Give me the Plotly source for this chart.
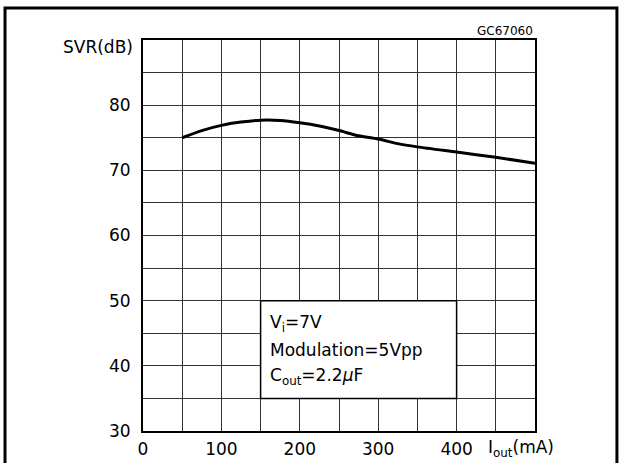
import plotly.graph_objects as go

# Data
iout_ma = [50, 75, 100, 125, 150, 175, 200, 225, 250, 275, 300, 325, 350, 400, 450, 500]
svr_db = [75.0, 76.1, 76.9, 77.4, 77.7, 77.65, 77.3, 76.8, 76.1, 75.3, 74.8, 74.1, 73.6, 72.8, 72.0, 71.1]

x_tick_vals = [0, 100, 200, 300, 400]
x_tick_text = ["0", "100", "200", "300", "400"]
x_minor_vals = [50, 150, 250, 350, 450]
y_tick_vals = [30, 40, 50, 60, 70, 80]
y_tick_text = ["30", "40", "50", "60", "70", "80"]
y_minor_vals = [35, 45, 55, 65, 75, 85]

conditions = ["V<sub>i</sub>=7V", "Modulation=5Vpp", "C<sub>out</sub>=2.2<i>μ</i>F"]
cond_y = [46.5, 42.4, 38.4]

FONT = "DejaVu Sans"

fig = go.Figure()
fig.add_trace(go.Scatter(
    x=iout_ma, y=svr_db, mode="lines",
    line=dict(color="black", width=3, shape="spline", smoothing=0.8),
    hoverinfo="skip", showlegend=False,
))

grid_col = "#333333"
fig.update_xaxes(
    range=[0, 500], tickvals=x_tick_vals, ticktext=x_tick_text,
    showgrid=True, gridcolor=grid_col, gridwidth=1,
    minor=dict(tickvals=x_minor_vals, showgrid=True, gridcolor=grid_col, gridwidth=1),
    showline=True, linecolor="black", linewidth=2, mirror=True,
    zeroline=False, ticks="", ticklabelstandoff=2, automargin=False,
    tickfont=dict(family=FONT, size=17, color="black"),
)
fig.update_yaxes(
    range=[30, 90], tickvals=y_tick_vals, ticktext=y_tick_text,
    showgrid=True, gridcolor=grid_col, gridwidth=1,
    minor=dict(tickvals=y_minor_vals, showgrid=True, gridcolor=grid_col, gridwidth=1),
    showline=True, linecolor="black", linewidth=2, mirror=True,
    zeroline=False, ticks="", ticklabelstandoff=7, automargin=False,
    tickfont=dict(family=FONT, size=17, color="black"),
)

# Condition box (white, covers grid)
fig.add_shape(type="rect", xref="x", yref="y", x0=150, x1=400, y0=35, y1=50,
              fillcolor="white", line=dict(color="black", width=1.5), layer="above")
for txt, yy in zip(conditions, cond_y):
    fig.add_annotation(x=160, y=yy, xref="x", yref="y", text=txt, showarrow=False,
                       xanchor="left", yanchor="middle",
                       font=dict(family=FONT, size=17, color="black"))

# Axis titles
fig.add_annotation(x=0, y=88.9, xref="paper", yref="y", text="SVR(dB)", showarrow=False,
                   xanchor="right", yanchor="middle", xshift=-8,
                   font=dict(family=FONT, size=17, color="black"))
fig.add_annotation(x=438, y=0, xref="x", yref="paper", text="I<sub>out</sub>(mA)", showarrow=False,
                   xanchor="left", yanchor="top", yshift=-4,
                   font=dict(family=FONT, size=17, color="black"))
fig.add_annotation(x=1, y=1.023, xref="paper", yref="paper", text="GC67060", showarrow=False,
                   xanchor="right", yanchor="middle",
                   font=dict(family=FONT, size=12, color="black"))

# Outer frame
fig.add_shape(type="rect", xref="paper", yref="paper", x0=-0.352, x1=1.209, y0=-0.2, y1=1.082,
              line=dict(color="black", width=3), fillcolor="rgba(0,0,0,0)", layer="above")

fig.update_layout(
    width=620, height=463,
    margin=dict(l=143, r=85, t=40, b=32),
    paper_bgcolor="white", plot_bgcolor="white",
    showlegend=False,
)
fig.write_html("out.html", config={"displayModeBar": False},
               post_script="document.body.style.margin='0';document.body.style.overflow='hidden';")
